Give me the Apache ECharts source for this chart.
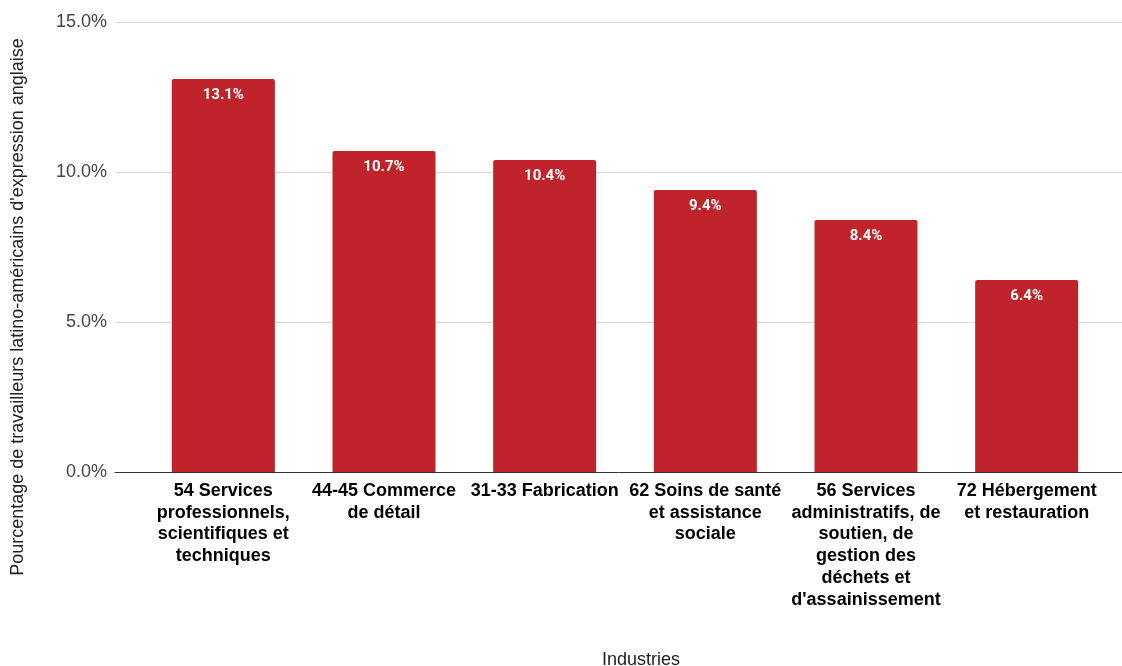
<!DOCTYPE html>
<html>
<head>
<meta charset="utf-8">
<script src="https://cdn.jsdelivr.net/npm/echarts@6/dist/echarts.min.js"></script>
<style>
  html, body { margin: 0; padding: 0; background: #fff; }
  #chart { width: 1122px; height: 666px; }
</style>
</head>
<body>
<div id="chart"></div>
<script>
// Industries (labels wrapped as displayed under each bar)
const categories = [
  "54 Services\nprofessionnels,\nscientifiques et\ntechniques",
  "44-45 Commerce\nde détail",
  "31-33 Fabrication",
  "62 Soins de santé\net assistance\nsociale",
  "56 Services\nadministratifs, de\nsoutien, de\ngestion des\ndéchets et\nd'assainissement",
  "72 Hébergement\net restauration"
];
// Share of English-speaking Latin American workers, in percent
const values = [13.1, 10.7, 10.4, 9.4, 8.4, 6.4];
const yTicks = [0, 5, 10, 15];

const FONT = "'Liberation Sans', Arial, sans-serif";
const yMin = yTicks[0], yMax = yTicks[yTicks.length - 1];

const chart = echarts.init(document.getElementById('chart'), null, { renderer: 'canvas' });
chart.setOption({
  backgroundColor: '#ffffff',
  animation: false,
  grid: [
    { left: 115, right: 0, top: 22, bottom: 194, containLabel: false },
    { left: 143, right: 15, top: 22, bottom: 194, containLabel: false }
  ],
  xAxis: [
    {
      gridIndex: 0, type: 'value', min: 0, max: 1,
      axisLine: { show: true, onZero: false, lineStyle: { color: '#333333', width: 1 } },
      axisTick: { show: false }, axisLabel: { show: false }, splitLine: { show: false }
    },
    {
      gridIndex: 1, type: 'category', data: categories,
      axisLine: { show: false }, axisTick: { show: false }, splitLine: { show: false },
      axisLabel: {
        interval: 0, margin: 8, color: '#000000',
        fontFamily: FONT, fontWeight: 'bold', fontSize: 18, lineHeight: 21.8, align: 'center'
      }
    }
  ],
  yAxis: [
    {
      gridIndex: 0, type: 'value', min: yMin, max: yMax, interval: 5,
      axisLine: { show: false }, axisTick: { show: false },
      splitLine: { show: true, lineStyle: { color: '#d9d9d9', width: 1 } },
      axisLabel: {
        margin: 8, color: '#444444', fontFamily: FONT, fontSize: 18,
        formatter: v => v.toFixed(1) + '%'
      }
    },
    {
      gridIndex: 1, type: 'value', min: yMin, max: yMax, interval: 5,
      show: false
    }
  ],
  series: [{
    type: 'bar',
    xAxisIndex: 1, yAxisIndex: 1,
    data: values,
    barWidth: 103,
    itemStyle: { color: '#c0242a', borderRadius: [2, 2, 0, 0] },
    label: {
      show: true, position: 'insideTop', distance: 9,
      color: '#ffffff', fontFamily: "Roboto, 'Liberation Sans', sans-serif",
      fontWeight: 'bold', fontSize: 15,
      formatter: p => p.value.toFixed(1) + '%'
    }
  }],
  graphic: [
    {
      type: 'text', x: 18, y: 307, rotation: Math.PI / 2,
      style: {
        text: "Pourcentage de travailleurs latino-américains d'expression anglaise",
        fontFamily: FONT, fontSize: 18, fill: '#222222',
        align: 'center', verticalAlign: 'middle'
      }
    },
    {
      type: 'text', x: 641, y: 660,
      style: {
        text: 'Industries', fontFamily: FONT, fontSize: 18, fill: '#222222',
        align: 'center', verticalAlign: 'middle'
      }
    }
  ]
});
</script>
</body>
</html>
